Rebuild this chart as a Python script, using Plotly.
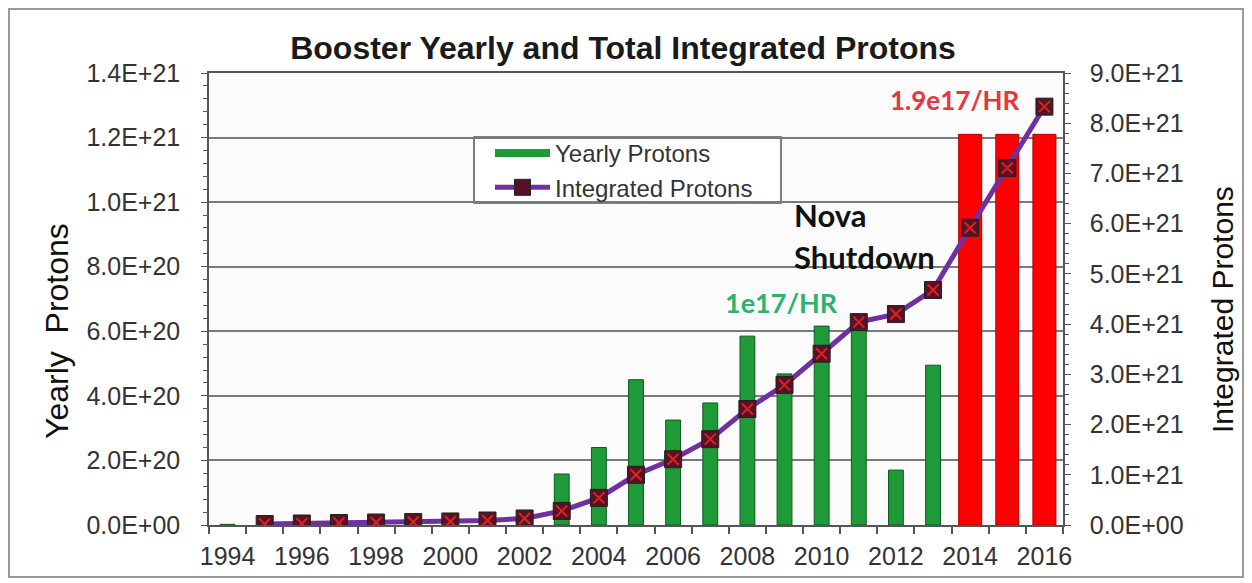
import plotly.graph_objects as go

years = list(range(1994, 2017))
yearly = [2e18, 0, 0, 0, 0, 0, 0, 0, 0,
          1.58e20, 2.4e20, 4.5e20, 3.25e20, 3.78e20, 5.85e20, 4.68e20, 6.16e20, 6.3e20,
          1.7e20, 4.95e20, 1.21e21, 1.21e21, 1.21e21]
int_years = list(range(1995, 2017))
integrated = [0.02e21, 0.03e21, 0.04e21, 0.05e21, 0.06e21, 0.07e21, 0.09e21, 0.13e21,
              0.28e21, 0.54e21, 1.0e21, 1.31e21, 1.71e21, 2.31e21, 2.79e21, 3.41e21,
              4.04e21, 4.2e21, 4.68e21, 5.92e21, 7.11e21, 8.33e21]
red_from = 2014

g_x = [y for y in years if y < red_from]
g_v = [v for y, v in zip(years, yearly) if y < red_from]
r_x = [y for y in years if y >= red_from]
r_v = [v for y, v in zip(years, yearly) if y >= red_from]

left_ticks = [i * 2e20 for i in range(8)]
right_ticks = [i * 1e21 for i in range(10)]
label_years = [y for y in years if y % 2 == 0]

GREEN = "#1f9a38"
PURPLE = "#7030a0"

fig = go.Figure()
fig.add_trace(go.Bar(x=g_x, y=g_v, name="Yearly Protons", width=0.4, showlegend=False,
                     marker=dict(color=GREEN, line=dict(color="#0d5c1c", width=1))))
fig.add_trace(go.Bar(x=r_x, y=r_v, name="Yearly Protons (2014+)", width=0.62, showlegend=False,
                     marker=dict(color="#ff0000", line=dict(color="#b00000", width=1))))
# legend entry for the bars (drawn as a thick green line like the original)
fig.add_trace(go.Scatter(x=[None], y=[None], mode="lines", name="Yearly Protons",
                         line=dict(color=GREEN, width=8)))
fig.add_trace(go.Scatter(x=int_years, y=integrated, yaxis="y2", name="Integrated Protons",
                         mode="lines+markers",
                         line=dict(color=PURPLE, width=5),
                         marker=dict(symbol="square", size=17, color="#561326",
                                     line=dict(color="#222222", width=1))))
fig.add_trace(go.Scatter(x=int_years, y=integrated, yaxis="y2", showlegend=False,
                         mode="markers", hoverinfo="skip",
                         marker=dict(symbol="x-thin-open", size=11, color="#e02020",
                                     line=dict(color="#e02020", width=2))))

W, H = 1240, 572
OFF = 8  # page offset of the figure
PL, PR, PT, PB = 209, 1063, 73, 525  # plot area in page pixels


def px(x):
    return (x - PL) / (PR - PL)


def py(y):
    return (PB - y) / (PB - PT)


fig.update_layout(
    width=W, height=H,
    margin=dict(l=PL - OFF, r=W - (PR - OFF), t=PT - OFF, b=H - (PB - OFF), autoexpand=False),
    paper_bgcolor="white", plot_bgcolor="#fbfbfb",
    barmode="overlay",
    font=dict(family="Arial, Liberation Sans, sans-serif", color="#222"),
    title=dict(text="<b>Booster Yearly and Total Integrated Protons</b>",
               x=(623 - OFF) / W, xanchor="center", y=1 - (48 - OFF) / H, yanchor="middle",
               font=dict(size=32, color="#1a1a1a")),
    xaxis=dict(range=[1993.5, 2016.5], tickmode="array", tickvals=label_years,
               ticktext=[str(y) for y in label_years], ticks="", showgrid=False,
               showline=True, linecolor="#555", linewidth=1.5, mirror=True,
               tickfont=dict(size=25, color="#333"), zeroline=False, ticklabelstandoff=8,
               minor=dict(tickmode="array", tickvals=[y - 0.5 for y in years] + [years[-1] + 0.5],
                          ticks="outside", ticklen=7, tickcolor="#555", tickwidth=1.5)),
    yaxis=dict(range=[0, 1.4e21], tickmode="array", tickvals=left_ticks,
               ticktext=[f"{v:.1E}" for v in left_ticks], ticks="outside", ticklen=6,
               tickcolor="#555", showgrid=True, gridcolor="#7a7a7a", gridwidth=1.5,
               showline=True, linecolor="#555", linewidth=1.5, zeroline=False,
               tickfont=dict(size=25, color="#333"), ticklabelstandoff=16,
               minor=dict(dtick=4e19, ticks="outside", ticklen=4, tickcolor="#555", showgrid=False)),
    yaxis2=dict(range=[0, 9e21], overlaying="y", side="right", tickmode="array",
                tickvals=right_ticks, ticktext=[f"{v:.1E}" for v in right_ticks],
                ticks="outside", ticklen=6, tickcolor="#555", showgrid=False,
                showline=True, linecolor="#555", linewidth=1.5, zeroline=False,
                tickfont=dict(size=25, color="#333"), ticklabelstandoff=14,
                minor=dict(dtick=2e20, ticks="outside", ticklen=4, tickcolor="#555")),
    legend=dict(x=px(490), y=py(131), xanchor="left", yanchor="top",
                bgcolor="rgba(0,0,0,0)", borderwidth=0, font=dict(size=24, color="#333"),
                tracegroupgap=0, itemwidth=55),
    showlegend=True,
)

# axis titles
fig.add_annotation(x=px(57), y=py(331), xref="paper", yref="paper", text="Yearly&nbsp; Protons",
                   textangle=-90, showarrow=False, xanchor="center", yanchor="middle",
                   font=dict(size=32, color="#111"))
fig.add_annotation(x=px(1222), y=py(310), xref="paper", yref="paper", text="Integrated Protons",
                   textangle=-90, showarrow=False, xanchor="center", yanchor="middle",
                   font=dict(size=30, color="#111"))

# legend box and outer frame
fig.add_shape(type="rect", xref="paper", yref="paper",
              x0=px(474), x1=px(781), y0=py(203), y1=py(137),
              line=dict(color="#555", width=1.5), fillcolor="white", layer="between")
fig.add_shape(type="rect", xref="paper", yref="paper",
              x0=px(9), x1=px(1243), y0=py(577), y1=py(9),
              line=dict(color="#9a9a9a", width=2), layer="above")

ann_font = "Lato, Open Sans, sans-serif"
fig.add_annotation(x=2013.6, y=8.47e21, yref="y2", text="<b>1.9e17/HR</b>", showarrow=False,
                   font=dict(family=ann_font, size=26, color="#e8353b"))
fig.add_annotation(x=2008.93, y=4.44e21, yref="y2", text="<b>1e17/HR</b>", showarrow=False,
                   font=dict(family=ann_font, size=27, color="#2db36b"))
fig.add_annotation(x=2009.2, y=6.17e21, yref="y2", text="<b>Nova</b>", showarrow=False,
                   xanchor="left", font=dict(family=ann_font, size=31, color="#111"))
fig.add_annotation(x=2009.2, y=5.33e21, yref="y2", text="<b>Shutdown</b>", showarrow=False,
                   xanchor="left", font=dict(family=ann_font, size=31, color="#111"))

fig.write_html("out.html")
